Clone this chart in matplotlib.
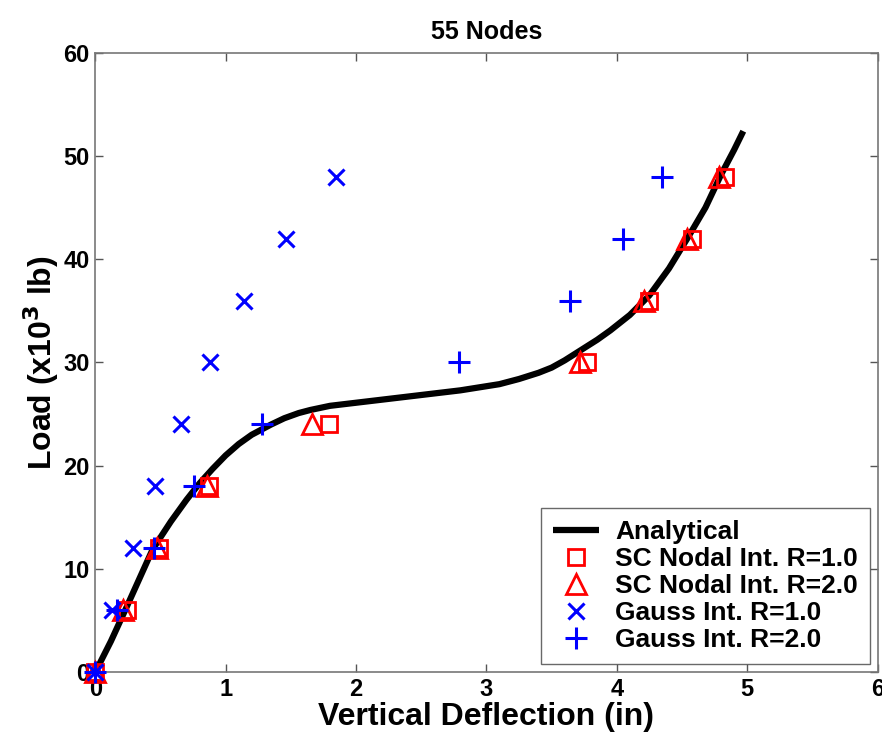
import numpy as np
import matplotlib.pyplot as plt

plt.rcParams['font.family'] = ['Liberation Sans', 'DejaVu Sans']
plt.rcParams['font.weight'] = 'bold'
plt.rcParams['mathtext.default'] = 'bf'

# analytical load-deflection curve
ana_x = [0, 0.12, 0.24, 0.44, 0.58, 0.70, 0.80, 0.90, 1.00, 1.10, 1.20, 1.35,
         1.45, 1.56, 1.65, 1.80, 2.00, 2.40, 2.80, 3.10, 3.25, 3.40, 3.50,
         3.60, 3.75, 3.85, 3.95, 4.10, 4.25, 4.40, 4.55, 4.68, 4.80, 4.90, 4.97]
ana_y = [0, 3.0, 6.3, 11.9, 14.6, 16.7, 18.3, 19.7, 21.0, 22.1, 23.0, 24.0,
         24.6, 25.1, 25.4, 25.8, 26.1, 26.7, 27.3, 27.9, 28.4, 29.0, 29.5,
         30.2, 31.4, 32.2, 33.1, 34.6, 36.5, 39.1, 42.2, 45.0, 48.2, 50.6, 52.4]

loads = [0, 6, 12, 18, 24, 30, 36, 42, 48]

# SC nodal integration
sc_r1 = [0, 0.24, 0.49, 0.87, 1.79, 3.77, 4.25, 4.58, 4.83]
sc_r2 = [0, 0.21, 0.47, 0.86, 1.66, 3.72, 4.21, 4.54, 4.78]
# Gauss integration
gs_r1 = [0, 0.13, 0.29, 0.46, 0.66, 0.88, 1.14, 1.46, 1.85]
gs_r2 = [0, 0.17, 0.45, 0.76, 1.28, 2.79, 3.64, 4.05, 4.35]

fig = plt.figure(figsize=(8.82, 7.42), dpi=100)
ax = fig.add_axes([0.108, 0.094, 0.887, 0.835])

ax.plot(ana_x, ana_y, color='black', lw=4.5, label='Analytical', zorder=2,
        solid_capstyle='butt')
ax.plot(sc_r1, loads, ls='none', marker='s', ms=12, mfc='none', mec='red',
        mew=2, label='SC Nodal Int. R=1.0', zorder=3, clip_on=False)
ax.plot(sc_r2, loads, ls='none', marker='^', ms=15, mfc='none', mec='red',
        mew=2, label='SC Nodal Int. R=2.0', zorder=3, clip_on=False)
ax.plot(gs_r1, loads, ls='none', marker='x', ms=12, mec='blue',
        mew=2.2, label='Gauss Int. R=1.0', zorder=4, clip_on=False)
ax.plot(gs_r2, loads, ls='none', marker='+', ms=16, mec='blue',
        mew=2.2, label='Gauss Int. R=2.0', zorder=4, clip_on=False)

ax.set_xlim(0, 6)
ax.set_ylim(0, 60)
ax.set_xticks(range(0, 7))
ax.set_yticks(range(0, 61, 10))
ax.tick_params(direction='in', top=True, right=True, length=6, width=1,
               labelsize=17, colors='#555555', labelcolor='black', pad=4)
for s in ax.spines.values():
    s.set_color('#777777')
    s.set_linewidth(1.2)
for lbl in ax.get_xticklabels() + ax.get_yticklabels():
    lbl.set_fontweight('bold')

ax.set_title('55 Nodes', fontsize=18, fontweight='bold', pad=10)
ax.set_xlabel('Vertical Deflection (in)', fontsize=23, fontweight='bold', labelpad=1)
ax.set_ylabel('Load (x10$^3$ lb)', fontsize=23, fontweight='bold', labelpad=2)

leg = ax.legend(loc='lower right', fontsize=19, frameon=True, fancybox=False,
                edgecolor='#444444', handlelength=1.75, handletextpad=0.6,
                borderaxespad=0.3, labelspacing=0.12, borderpad=0.45)
leg.get_frame().set_linewidth(1.0)
for t in leg.get_texts():
    t.set_fontweight('bold')

fig.savefig('out.png', dpi=100)
